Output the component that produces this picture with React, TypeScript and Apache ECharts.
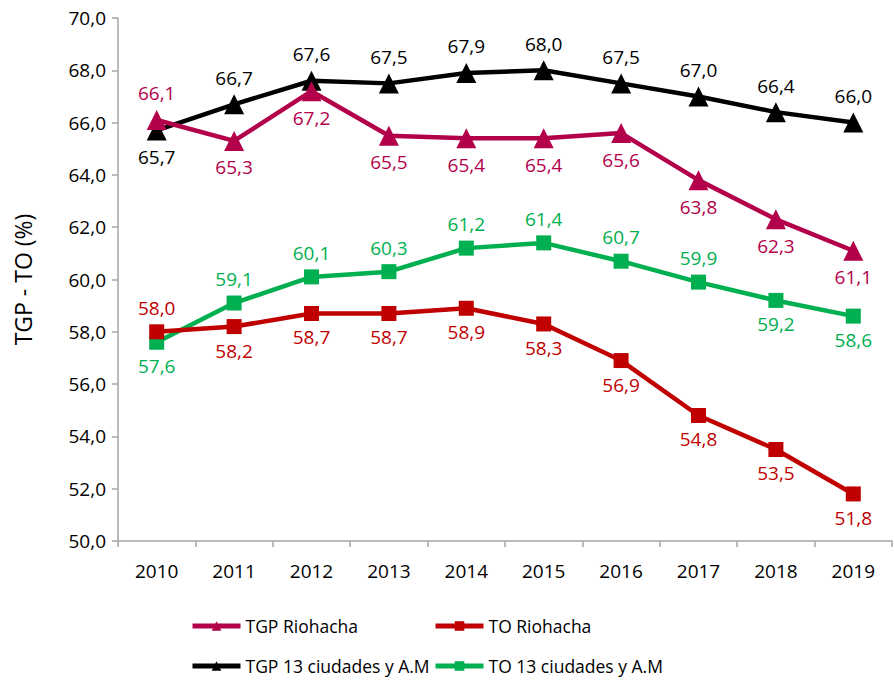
import React, { useEffect, useRef } from "react";
import * as echarts from "echarts";

const years = ["2010", "2011", "2012", "2013", "2014", "2015", "2016", "2017", "2018", "2019"];
const tgpRiohacha = [66.1, 65.3, 67.2, 65.5, 65.4, 65.4, 65.6, 63.8, 62.3, 61.1];
const toRiohacha = [58.0, 58.2, 58.7, 58.7, 58.9, 58.3, 56.9, 54.8, 53.5, 51.8];
const tgp13 = [65.7, 66.7, 67.6, 67.5, 67.9, 68.0, 67.5, 67.0, 66.4, 66.0];
const to13 = [57.6, 59.1, 60.1, 60.3, 61.2, 61.4, 60.7, 59.9, 59.2, 58.6];

const tgpRiohachaPos = ["top", "bottom", "bottom", "bottom", "bottom", "bottom", "bottom", "bottom", "bottom", "bottom"];
const toRiohachaPos = ["top", "bottom", "bottom", "bottom", "bottom", "bottom", "bottom", "bottom", "bottom", "bottom"];
const tgp13Pos = ["bottom", "top", "top", "top", "top", "top", "top", "top", "top", "top"];
const to13Pos = ["bottom", "top", "top", "top", "top", "top", "top", "top", "bottom", "bottom"];

const names = ["TGP Riohacha", "TO Riohacha", "TGP 13 ciudades y A.M", "TO 13 ciudades y A.M"];
const colors = ["#B3004B", "#C00000", "#000000", "#00B050"];

const FONT = "'Open Sans', 'Noto Sans', sans-serif";
const fmt = (v: number) => v.toFixed(1).replace(".", ",");

export default function App() {
  const ref = useRef<HTMLDivElement>(null);
  useEffect(() => {
    const chart = echarts.init(ref.current!, null, { renderer: "svg" });
    const mk = (i: number, vals: number[], pos: string[], symbol: string, size: number) => ({
      name: names[i],
      type: "line",
      data: vals.map((v, j) => ({ value: v, label: { position: pos[j] } })),
      symbol,
      symbolSize: size,
      itemStyle: { color: colors[i] },
      lineStyle: { color: colors[i], width: 4.5 },
      label: {
        show: true,
        color: colors[i],
        fontFamily: FONT,
        fontSize: 19,
        distance: 7,
        formatter: (p: any) => fmt(p.value),
      },
      z: 10 - i,
    });
    const legendBase = {
      itemWidth: 48,
      itemHeight: 12,
      lineStyle: { width: 5 },
      textStyle: { fontFamily: FONT, fontSize: 17.5, color: "#000" },
      itemGap: 4,
    };
    chart.setOption({
      animation: false,
      color: colors,
      grid: { left: 118, right: 2, top: 18, bottom: 140 },
      legend: [
        { ...legendBase, data: [names[0]], left: 185, top: 612 },
        { ...legendBase, data: [names[1]], left: 428, top: 612 },
        { ...legendBase, data: [names[2]], left: 185, top: 652 },
        { ...legendBase, data: [names[3]], left: 428, top: 652 },
      ],
      xAxis: {
        type: "category",
        data: years,
        boundaryGap: true,
        axisLine: { lineStyle: { color: "#A6A6A6", width: 1.5 } },
        axisTick: { show: true, length: 6, lineStyle: { color: "#A6A6A6", width: 1.5 } },
        axisLabel: { color: "#000", fontFamily: FONT, fontSize: 19, margin: 20 },
      },
      yAxis: {
        type: "value",
        min: 50,
        max: 70,
        interval: 2,
        name: "TGP - TO (%)",
        nameLocation: "middle",
        nameGap: 84,
        nameTextStyle: { fontFamily: FONT, fontSize: 23, color: "#000" },
        axisLine: { show: true, lineStyle: { color: "#A6A6A6", width: 1.5 } },
        axisTick: { show: true, length: 6, lineStyle: { color: "#A6A6A6", width: 1.5 } },
        splitLine: { show: false },
        axisLabel: { color: "#000", fontFamily: FONT, fontSize: 19, margin: 12, formatter: (v: number) => fmt(v) },
      },
      series: [
        mk(0, tgpRiohacha, tgpRiohachaPos, "triangle", 20),
        mk(1, toRiohacha, toRiohachaPos, "rect", 15),
        mk(2, tgp13, tgp13Pos, "triangle", 20),
        mk(3, to13, to13Pos, "rect", 15),
      ],
    });
    return () => chart.dispose();
  }, []);
  return <div ref={ref} style={{ width: 894, height: 681, position: "absolute", left: 0, top: 0, background: "#fff" }} />;
}
